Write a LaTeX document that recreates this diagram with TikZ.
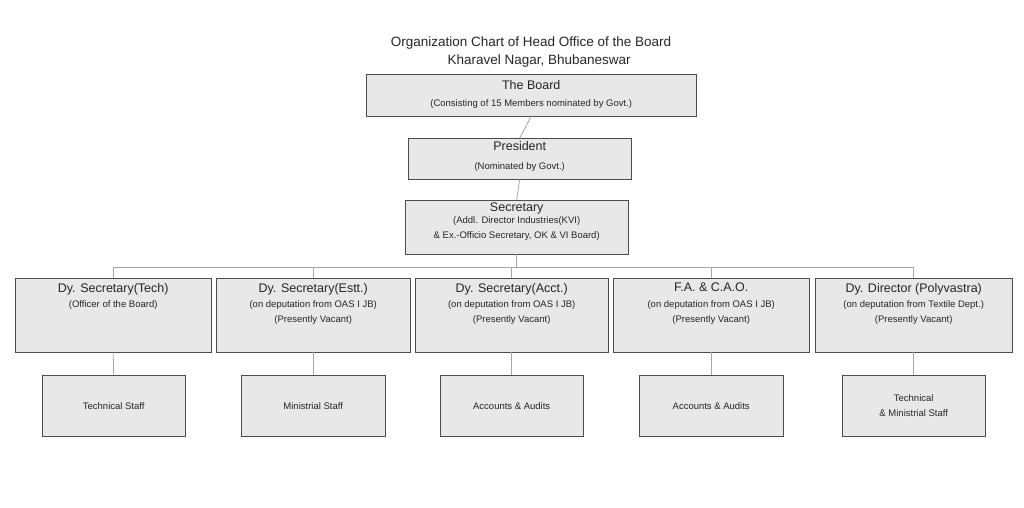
\documentclass[tikz,border=0pt]{standalone}
\usepackage{fontspec}
\setmainfont{Liberation Sans}
\begin{document}
\begin{tikzpicture}[x=1pt,y=-1pt,
  box/.style={draw=black!70,fill=black!9,line width=0.6pt,inner sep=0pt},
  big/.style={font=\fontsize{12.5}{14}\selectfont,inner sep=0pt,text=black!85},
  small/.style={font=\fontsize{9.5}{15.5}\selectfont,inner sep=0pt,align=center,text=black!85},
  link/.style={draw=black!35,line width=0.8pt}]
\useasboundingbox (0,0) rectangle (1024,507);
\node[font=\fontsize{13.5}{18}\selectfont,align=center,text=black!85] (title) at (531,52) {Organization Chart of Head Office of the Board\\\hspace*{1.2em}Kharavel Nagar, Bhubaneswar};
\newcommand\mybox[5]{\path[box] (#2,#3) rectangle (#4,#5) coordinate (#1-se); \node[inner sep=0pt,minimum width={#4-#2},minimum height={#5-#3},anchor=north west] (#1) at (#2,#3) {};}
\mybox{board}{366}{74}{696}{116}
\mybox{pres}{408}{138}{631}{179}
\mybox{sec}{405}{200}{628}{254}
\mybox{a}{15}{278}{211}{352}
\mybox{b}{216}{278}{410}{352}
\mybox{c}{415}{278}{608}{352}
\mybox{d}{613}{278}{809}{352}
\mybox{e}{815}{278}{1012}{352}
\mybox{a2}{42}{375}{185}{436}
\mybox{b2}{241}{375}{385}{436}
\mybox{c2}{440}{375}{583}{436}
\mybox{d2}{639}{375}{783}{436}
\mybox{e2}{842}{375}{985}{436}
\node[big] at ([yshift=-11]board.north) {The Board};
\node[small] at ([yshift=-30]board.north) {(Consisting of 15 Members nominated by Govt.)};
\node[big] at ([yshift=-8]pres.north) {President};
\node[small] at ([yshift=-29]pres.north) {(Nominated by Govt.)};
\node[big,anchor=north] at ([yshift=-3]sec.north) {Secretary};
\node[small,anchor=north] at ([yshift=-16]sec.north) {(Addl. Director Industries(KVI)\\\& Ex.-Officio Secretary, OK \& VI Board)};
\foreach \n/\t/\s in {a/Dy. Secretary(Tech)/(Officer of the Board),
  b/Dy. Secretary(Estt.)/{(on deputation from OAS I JB)\\(Presently Vacant)},
  c/Dy. Secretary(Acct.)/{(on deputation from OAS I JB)\\(Presently Vacant)},
  d/F.A. \& C.A.O./{(on deputation from OAS I JB)\\(Presently Vacant)},
  e/Dy. Director (Polyvastra)/{(on deputation from Textile Dept.)\\(Presently Vacant)}}{
  \node[big,anchor=north] at ([yshift=-5]\n.north) {\t};
  \node[small,anchor=north] at ([yshift=-22]\n.north) {\s};
}
\node[small] at (a2) {Technical Staff};
\node[small] at (b2) {Ministrial Staff};
\node[small] at (c2) {Accounts \& Audits};
\node[small] at (d2) {Accounts \& Audits};
\node[small] at (e2) {Technical\\\& Ministrial Staff};
\coordinate (bus) at (0,267);
\draw[link] (board.south) -- (pres.north);
\draw[link] (pres.south) -- (sec.north);
\draw[link] (sec.south) -- (sec.south |- bus);
\draw[link] (a.north |- bus) -- (e.north |- bus);
\foreach \n in {a,b,c,d,e}{
  \draw[link] (\n.north |- bus) -- (\n.north);
  \draw[link] (\n.south) -- (\n2.north);
}
\end{tikzpicture}
\end{document}
